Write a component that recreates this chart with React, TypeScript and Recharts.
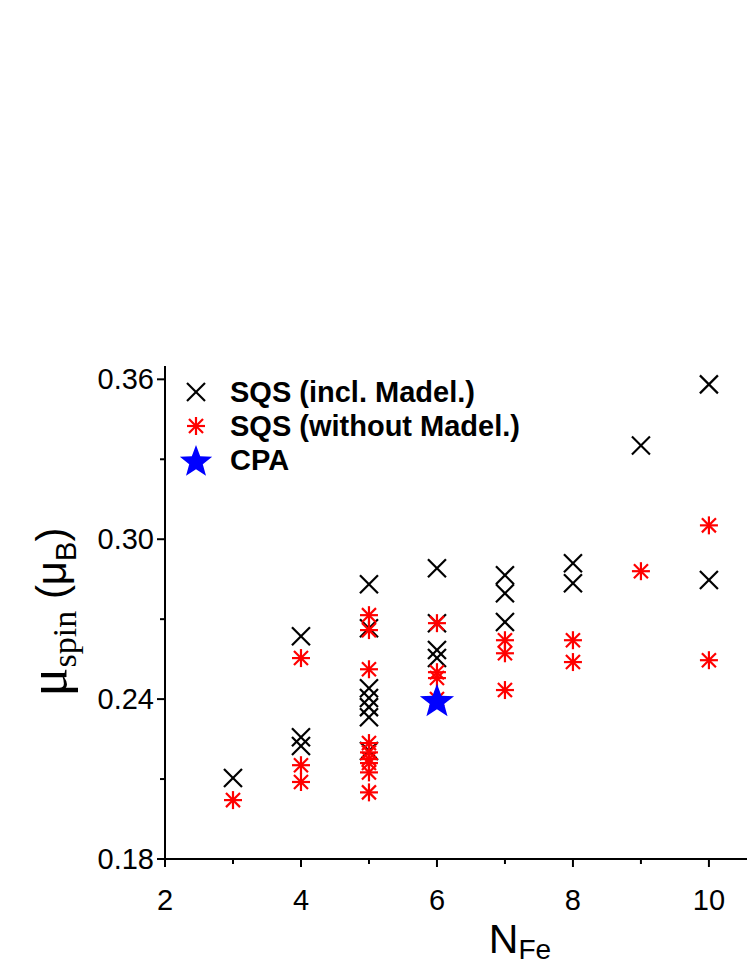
import React from 'react';
import { ScatterChart, Scatter, XAxis, YAxis, Legend } from 'recharts';

// N_Fe positions and spin moments
const nfeIncl = [3, 4, 4, 4, 5, 5, 5, 5, 5, 5, 5, 6, 6, 6, 6, 7, 7, 7, 8, 8, 9, 10, 10];
const muIncl = [
  0.2104, 0.2636, 0.2257, 0.2224, 0.2831, 0.2666, 0.2441, 0.2404, 0.2370, 0.2332, 0.2205,
  0.2891, 0.2685, 0.2584, 0.2554, 0.2865, 0.2797, 0.2689, 0.2910, 0.2835, 0.3352, 0.3581, 0.2847,
];

const nfeNoMad = [3, 4, 4, 4, 5, 5, 5, 5, 5, 5, 5, 5, 5, 6, 6, 6, 6, 7, 7, 7, 8, 8, 9, 10, 10];
const muNoMad = [
  0.2021, 0.2554, 0.2152, 0.2089, 0.2715, 0.2659, 0.2512, 0.2235, 0.2200, 0.2175, 0.2160, 0.2125,
  0.2050, 0.2685, 0.2501, 0.2479, 0.2400, 0.2621, 0.2572, 0.2434, 0.2621, 0.2539, 0.2880, 0.3052,
  0.2546,
];

const nfeCpa = [6];
const muCpa = [0.239];

const xTicks = [2, 3, 4, 5, 6, 7, 8, 9, 10];
const yTicks = [0.18, 0.21, 0.24, 0.27, 0.30, 0.33, 0.36];

const legendLabels = ['SQS (incl. Madel.)', 'SQS (without Madel.)', 'CPA'];

const zip = (xs: number[], ys: number[]) => xs.map((x, i) => ({ x, y: ys[i] }));
const inclData = zip(nfeIncl, muIncl);
const noMadData = zip(nfeNoMad, muNoMad);
const cpaData = zip(nfeCpa, muCpa);

const SANS = '"Liberation Sans", Arial, sans-serif';
const SERIF = '"Liberation Serif", "Times New Roman", serif';

function XMark({ cx, cy, s = 9 }: any) {
  if (cx == null || cy == null) return null;
  return (
    <g stroke="#000" strokeWidth={2.2}>
      <line x1={cx - s} y1={cy - s} x2={cx + s} y2={cy + s} />
      <line x1={cx - s} y1={cy + s} x2={cx + s} y2={cy - s} />
    </g>
  );
}

function AsteriskMark({ cx, cy, s = 9 }: any) {
  if (cx == null || cy == null) return null;
  const d = s * 0.78;
  return (
    <g stroke="#ff0000" strokeWidth={2.2}>
      <line x1={cx - s} y1={cy} x2={cx + s} y2={cy} />
      <line x1={cx} y1={cy - s} x2={cx} y2={cy + s} />
      <line x1={cx - d} y1={cy - d} x2={cx + d} y2={cy + d} />
      <line x1={cx - d} y1={cy + d} x2={cx + d} y2={cy - d} />
    </g>
  );
}

function StarMark({ cx, cy, r = 18 }: any) {
  if (cx == null || cy == null) return null;
  const pts: string[] = [];
  for (let i = 0; i < 10; i++) {
    const rad = i % 2 === 0 ? r : r * 0.42;
    const a = -Math.PI / 2 + (i * Math.PI) / 5;
    pts.push(`${cx + rad * Math.cos(a)},${cy + rad * Math.sin(a)}`);
  }
  return <polygon points={pts.join(' ')} fill="#0000ff" />;
}

function XTick({ x, y, payload }: any) {
  const v = payload.value;
  const major = v % 2 === 0;
  return (
    <g>
      <line x1={x} y1={y} x2={x} y2={y + (major ? 8 : 5)} stroke="#000" strokeWidth={2} />
      {major && (
        <text x={x} y={y + 51} textAnchor="middle" fontFamily={SANS} fontSize={29} fill="#000">
          {v}
        </text>
      )}
    </g>
  );
}

function YTick({ x, y, payload }: any) {
  const v = payload.value;
  const major = Math.round(v * 100) % 6 === 0;
  return (
    <g>
      <line x1={x - (major ? 8 : 5)} y1={y} x2={x} y2={y} stroke="#000" strokeWidth={2} />
      {major && (
        <text x={x - 11} y={y + 10} textAnchor="end" fontFamily={SANS} fontSize={29} fill="#000">
          {v.toFixed(2)}
        </text>
      )}
    </g>
  );
}

function YLabel() {
  return (
    <text transform="translate(66,612) rotate(-90)" textAnchor="middle" fill="#000">
      <tspan fontFamily={SERIF} fontSize={54}>μ</tspan>
      <tspan fontFamily={SERIF} fontSize={34} dy={10}>spin</tspan>
      <tspan fontFamily={SANS} fontSize={42} dy={-10}>{'  (μ'}</tspan>
      <tspan fontFamily={SANS} fontSize={29} dy={10}>B</tspan>
      <tspan fontFamily={SANS} fontSize={42} dy={-10}>)</tspan>
    </text>
  );
}

function XLabel() {
  return (
    <text x={520} y={953} textAnchor="middle" fill="#000" fontFamily={SANS}>
      <tspan fontSize={41}>N</tspan>
      <tspan fontSize={28} dy={6}>Fe</tspan>
    </text>
  );
}

function LegendBox() {
  const markers = [
    <XMark cx={196} cy={12} />,
    <AsteriskMark cx={196} cy={12} />,
    <StarMark cx={196} cy={14} r={17} />,
  ];
  return (
    <svg width={420} height={110} style={{ overflow: 'visible' }}>
      {legendLabels.map((label, i) => (
        <g key={label} transform={`translate(-180, ${8 + i * 34})`}>
          {markers[i]}
          <text x={230} y={22} fontFamily={SANS} fontWeight="bold" fontSize={29} fill="#000">
            {label}
          </text>
        </g>
      ))}
    </svg>
  );
}

export default function App() {
  return (
    <div style={{ position: 'absolute', left: 0, top: 0, background: '#fff' }}>
      <ScatterChart
        width={747}
        height={967}
        margin={{ top: 366, right: 0, bottom: 48, left: 85 }}
      >
        <XAxis
          type="number"
          dataKey="x"
          domain={[2, 10.56]}
          ticks={xTicks}
          allowDataOverflow
          height={60}
          tickSize={0}
          tickMargin={0}
          tickLine={false}
          axisLine={{ stroke: '#000', strokeWidth: 2 }}
          tick={<XTick />}
          label={<XLabel />}
        />
        <XAxis
          xAxisId="top"
          orientation="top"
          type="number"
          domain={[2, 10.56]}
          height={0}
          tick={false}
          tickLine={false}
          axisLine={{ stroke: '#000', strokeWidth: 2 }}
        />
        <YAxis
          type="number"
          dataKey="y"
          domain={[0.18, 0.365]}
          ticks={yTicks}
          allowDataOverflow
          width={80}
          tickSize={0}
          tickMargin={0}
          tickLine={false}
          axisLine={{ stroke: '#000', strokeWidth: 2 }}
          tick={<YTick />}
          label={<YLabel />}
        />
        <Legend
          layout="vertical"
          align="center"
          verticalAlign="middle"
          content={<LegendBox />}
          wrapperStyle={{ position: 'absolute', left: 180, top: 372, width: 420, height: 110 }}
        />
        <Scatter
          name={legendLabels[0]}
          data={inclData}
          isAnimationActive={false}
          shape={(p: any) => <XMark cx={p.cx} cy={p.cy} />}
        />
        <Scatter
          name={legendLabels[1]}
          data={noMadData}
          isAnimationActive={false}
          shape={(p: any) => <AsteriskMark cx={p.cx} cy={p.cy} />}
        />
        <Scatter
          name={legendLabels[2]}
          data={cpaData}
          isAnimationActive={false}
          shape={(p: any) => <StarMark cx={p.cx} cy={p.cy} />}
        />
      </ScatterChart>
    </div>
  );
}
